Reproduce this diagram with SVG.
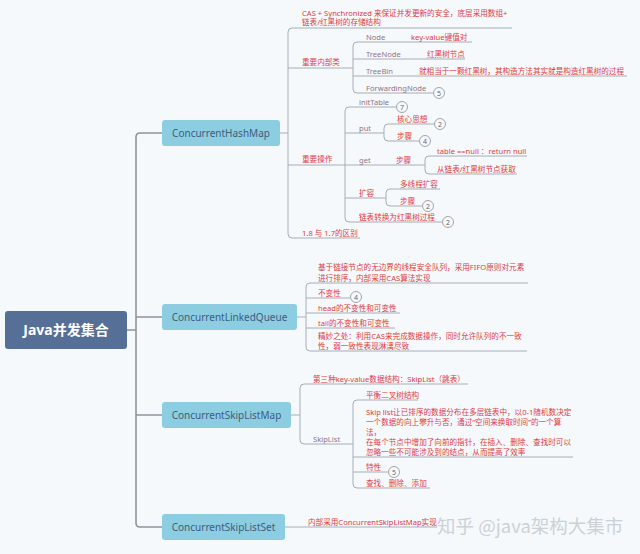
<svg xmlns="http://www.w3.org/2000/svg" width="640" height="554" viewBox="0 0 640 554">
<defs>
<style>
.bg{fill:#f5f9fc}
.l{fill:none;stroke:#a6aeb6;stroke-width:1}
.tr{fill:none;stroke:#8d949c;stroke-width:1.6}
.t{font-family:"Noto Sans","Noto Sans CJK SC",sans-serif;font-size:7.6px;fill:#e2393f}
.m{fill:#8f7386}
.box{fill:#8dcde2}
.bt{font-family:"Noto Sans","Noto Sans CJK SC",sans-serif;font-size:10px;fill:#3e5c7c;text-anchor:middle}
.bd circle{fill:#f5f9fc;stroke:#8a9096;stroke-width:0.8}
.bd text{font-family:"Noto Sans",sans-serif;font-size:7px;fill:#666;text-anchor:middle}
</style>
</defs>
<rect class="bg" x="0" y="0" width="640" height="554"/>

<g id="connectors">
  <path class="tr" d="M127,330 L136,330 M162,133 L140,133 Q136,133 136,137 L136,523 Q136,527 140,527 L162,527 M136,317 L162,317 M136,415 L162,415"/>
  <path class="l" d="M280,133 L288,133 M512,28 L292,28 Q288,28 288,32 L288,234 Q288,238 292,238 L360,238 M288,68 L353,68 M288,165 L345,165"/>
  <path class="l" d="M472,42 L357,42 Q353,42 353,46 L353,89 Q353,93 357,93 L433,93 M353,59 L465,59 M353,76 L627,76"/>
  <path class="l" d="M396,107 L349,107 Q345,107 345,111 L345,218 Q345,222 349,222 L442,222 M345,133 L384,133 M345,165 L425,165 M345,198 L386,198"/>
  <path class="l" d="M434,124 L388,124 Q384,124 384,128 L384,137 Q384,141 388,141 L419,141"/>
  <path class="l" d="M527,156 L429,156 Q425,156 425,160 L425,170 Q425,174 429,174 L517,174"/>
  <path class="l" d="M440,189 L390,189 Q386,189 386,193 L386,202 Q386,206 390,206 L422,206"/>
  <path class="l" d="M297,317 L306,317 M528,283 L310,283 Q306,283 306,287 L306,347 Q306,351 310,351 L527,351 M306,298 L350,298 M306,313 L400,313 M306,328 L395,328"/>
  <path class="l" d="M291,415 L300,415 M468,384 L304,384 Q300,384 300,388 L300,440 Q300,444 304,444 L353,444"/>
  <path class="l" d="M418,400 L357,400 Q353,400 353,404 L353,484 Q353,488 357,488 L430,488 M353,457 L573,457 M353,472 L388,472"/>
  <path class="l" d="M285,527 L437,527"/>
</g>

<g id="root">
  <rect x="5" y="311" width="122" height="38" rx="3" fill="#566f96"/>
  <text x="66" y="335" font-family="'Noto Sans','Noto Sans CJK SC',sans-serif" font-size="14" font-weight="bold" fill="#ffffff" text-anchor="middle">Java并发集合</text>
</g>

<g id="chm">
  <rect class="box" x="162" y="120" width="118" height="26" rx="3"/>
  <text class="bt" x="221" y="137">ConcurrentHashMap</text>
</g>
<g id="clq">
  <rect class="box" x="162" y="304" width="135" height="26" rx="3"/>
  <text class="bt" x="229.5" y="321">ConcurrentLinkedQueue</text>
</g>
<g id="cslm">
  <rect class="box" x="162" y="402" width="129" height="26" rx="3"/>
  <text class="bt" x="226.5" y="419">ConcurrentSkipListMap</text>
</g>
<g id="csls">
  <rect class="box" x="162" y="514" width="123" height="26" rx="3"/>
  <text class="bt" x="223.5" y="531">ConcurrentSkipListSet</text>
</g>

<g id="chm-children">
  <text class="t" x="302" y="16">CAS + Synchronized 来保证并发更新的安全，底层采用数组+</text>
  <text class="t" x="302" y="25">链表/红黑树的存储结构</text>
  <text class="t" x="302" y="65">重要内部类</text>
  <text class="t m" x="366" y="40">Node</text>
  <text class="t" x="411" y="40">key-value键值对</text>
  <text class="t m" x="366" y="57">TreeNode</text>
  <text class="t" x="427" y="57">红黑树节点</text>
  <text class="t m" x="366" y="74">TreeBin</text>
  <text class="t" x="419" y="74">就相当于一颗红黑树，其构造方法其实就是构造红黑树的过程</text>
  <text class="t m" x="366" y="91">ForwardingNode</text>
  <text class="t" x="302" y="162">重要操作</text>
  <text class="t m" x="359" y="105">initTable</text>
  <text class="t m" x="359" y="131">put</text>
  <text class="t" x="397" y="122">核心思想</text>
  <text class="t" x="397" y="139">步骤</text>
  <text class="t m" x="359" y="163">get</text>
  <text class="t" x="396" y="163">步骤</text>
  <text class="t" x="437" y="154">table ==null ：return null</text>
  <text class="t" x="437" y="172">从链表/红黑树节点获取</text>
  <text class="t" x="359" y="196">扩容</text>
  <text class="t" x="400" y="187">多线程扩容</text>
  <text class="t" x="400" y="204">步骤</text>
  <text class="t" x="359" y="220">链表转换为红黑树过程</text>
  <text class="t" x="302" y="236">1.8 与 1.7的区别</text>
</g>

<g id="clq-children">
  <text class="t" x="318" y="270">基于链接节点的无边界的线程安全队列，采用FIFO原则对元素</text>
  <text class="t" x="318" y="281">进行排序，内部采用CAS算法实现</text>
  <text class="t" x="318" y="296">不变性</text>
  <text class="t" x="318" y="311">head的不变性和可变性</text>
  <text class="t" x="318" y="326">tail的不变性和可变性</text>
  <text class="t" x="318" y="339">精妙之处：利用CAS来完成数据操作，同时允许队列的不一致</text>
  <text class="t" x="318" y="349">性，弱一致性表现淋漓尽致</text>
</g>

<g id="cslm-children">
  <text class="t" x="313" y="382">第三种key-value数据结构：SkipList（跳表）</text>
  <text class="t m" x="313" y="442">SkipList</text>
  <text class="t" x="366" y="398">平衡二叉树结构</text>
  <text class="t" x="366" y="415">Skip list让已排序的数据分布在多层链表中，以0-1随机数决定</text>
  <text class="t" x="366" y="425">一个数据的向上攀升与否，通过“空间来换取时间”的一个算</text>
  <text class="t" x="366" y="435">法，</text>
  <text class="t" x="366" y="445">在每个节点中增加了向前的指针，在插入、删除、查找时可以</text>
  <text class="t" x="366" y="455">忽略一些不可能涉及到的结点，从而提高了效率</text>
  <text class="t" x="366" y="470">特性</text>
  <text class="t" x="366" y="486">查找、删除、添加</text>
</g>

<g id="csls-children">
  <text class="t" x="308" y="525">内部采用ConcurrentSkipListMap实现</text>
</g>

<g id="badges" class="bd">
  <circle cx="439" cy="93" r="5.5"/><text x="439" y="95.5">5</text>
  <circle cx="402" cy="107" r="5.5"/><text x="402" y="109.5">7</text>
  <circle cx="440" cy="124" r="5.5"/><text x="440" y="126.5">2</text>
  <circle cx="425" cy="141" r="5.5"/><text x="425" y="143.5">4</text>
  <circle cx="428" cy="206" r="5.5"/><text x="428" y="208.5">2</text>
  <circle cx="448" cy="222" r="5.5"/><text x="448" y="224.5">2</text>
  <circle cx="356" cy="297" r="5.5"/><text x="356" y="299.5">4</text>
  <circle cx="394" cy="472" r="5.5"/><text x="394" y="474.5">5</text>
</g>

<text x="437" y="533" font-family="'Noto Sans CJK SC','Noto Sans',sans-serif" font-size="18.5" fill="#cdd1d5">知乎 @java架构大集市</text>
</svg>
